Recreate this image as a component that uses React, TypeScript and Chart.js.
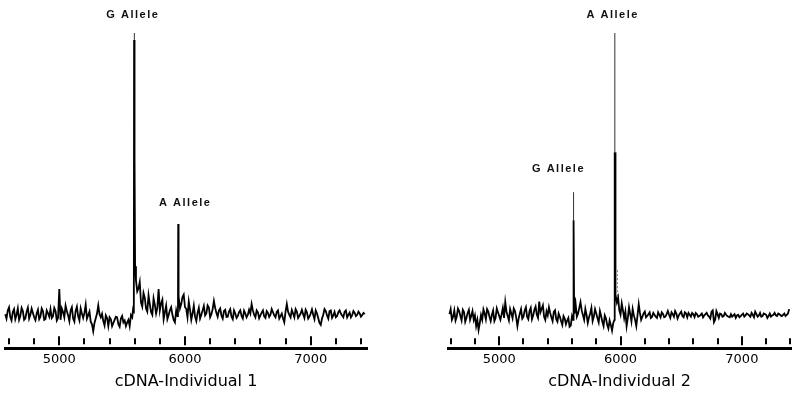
import React, { useEffect, useRef } from "react";
import { Chart, registerables } from "chart.js";

Chart.register(...registerables);

// ---------- shared axis data ----------
const tickMarks = [4600, 4800, 5000, 5200, 5400, 5600, 5800, 6000, 6200, 6400, 6600, 6800, 7000, 7200, 7400];
const tickLabels = [5000, 6000, 7000];

// ---------- Individual 1 ----------
const leftTitle = "cDNA-Individual 1";
const leftGridStart = 4570;
const leftMidStart = 4580;
const leftGridStep = 20;
const leftNoise = [
  10.8, 12.0, 9.9, 11.5, 9.2, 12.6, 10.2, 11.8, 9.5, 12.9, 10.6, 11.2, 8.9, 12.2, 10.0, 11.7, 9.3, 11.1, 12.4, 10.2, 11.8, 9.6,
  9.0, 11.5, 13.5, 10.4, 12.0, 9.4, 11.8, 10.1, 12.6, 9.6, 13.8, 10.5, 8.4,
  5.4, 9.5, 13.6,
  9.8, 8.6, 10.4, 7.0, 9.2, 8.0, 10.0, 7.6, 9.4, 8.2, 7.0, 9.0,
  10.5, 13.4,
  21.5, 19.0, 14.5, 17.5, 12.6, 16.8, 11.5, 15.8, 11.0, 18.8, 14.2, 9.2, 13.5, 10.5, 13.0, 9.0, 12.0,
  16.5, 14.0, 17.0, 12.5, 14.8, 9.0, 13.5, 8.6, 12.8, 10.6, 13.4, 11.0, 12.9, 10.8, 15.0, 11.2, 12.0, 10.3, 11.8, 9.9, 11.6, 10.0, 12.0, 9.6, 11.4, 10.2, 11.9, 9.8, 12.2,
  14.0, 10.6, 12.0, 9.5, 11.3, 10.1, 11.8, 9.9, 12.4, 10.4, 11.5, 9.4, 11.0, 8.2, 14.0, 10.6, 12.1, 9.8, 11.6, 10.3, 12.2, 9.6, 11.4, 10.0, 12.3, 9.2, 11.0, 8.0, 9.4, 12.4, 10.4, 11.8, 9.6, 11.5, 10.2, 12.0, 10.4, 11.6, 9.8, 11.3, 10.5, 11.2, 10.6, 11.0, 10.5, 10.8,
];
const leftNoiseMid = [
  9.4, 13.0, 8.8, 12.4, 10.6, 9.0, 12.8, 9.0, 11.6, 9.4, 12.6, 9.8, 11.0, 9.2, 12.6, 9.0, 12.0, 10.0, 9.6, 12.8, 8.8, 18.8,
  12.6, 9.8, 11.8, 8.6, 13.0, 8.4, 13.2, 8.8, 11.0, 11.2, 9.4, 11.6, 7.6, 8.0, 11.0, 10.8,
  10.9, 7.2, 9.6, 9.8, 7.0, 9.0, 9.8, 6.8, 10.2, 8.8, 8.2, 7.0, 9.8, 60,
  18.0, 21.0, 13.2, 16.0, 11.6, 14.0, 10.6, 13.8, 12.8, 12.0, 15.4, 11.4, 9.2, 12.0, 10.6, 8.2, 10.2,
  12.6, 16.2, 13.0, 9.8, 12.2, 11.0, 10.0, 11.2, 9.4, 12.0, 10.4, 13.6, 9.8, 12.4, 12.8, 10.0, 12.6, 9.4, 12.2, 10.0, 12.4, 9.2, 11.0, 10.2, 12.0, 9.4, 11.0, 10.6,
  11.0, 12.0, 9.8, 11.4, 10.4, 12.0, 9.6, 11.2, 10.6, 11.4, 9.8, 12.0, 10.2, 9.4, 11.6, 11.6, 9.8, 11.0, 12.4, 9.6, 11.0, 10.8, 12.2, 9.4, 11.0, 10.6, 12.0, 9.6, 7.4,
  10.6, 11.8, 9.4, 12.0, 10.4, 9.8, 11.4, 11.0, 9.8, 12.0, 10.6, 9.8, 11.8, 10.2, 11.6, 10.0, 11.2,
];
const leftPeakMass = [5593, 5595, 5597, 5599, 5603, 5944, 5946, 5948];
const leftPeakValue = [11.0, 97.8, 40, 97.8, 26, 11.0, 39.4, 13.0];
const leftTipMass = [5597];
const leftTipBase = [97.8];
const leftTipTop = [100];
const leftLabelText = ["G Allele", "A Allele"];
const leftLabelMass = [5585, 6002];
const leftLabelValue = [105.7, 46.0];

// ---------- Individual 2 ----------
const rightTitle = "cDNA-Individual 2";
const rightGridStart = 4590;
const rightMidStart = 4600;
const rightGridStep = 20;
const rightNoise = [
  10.8, 9.0, 12.0, 10.0, 11.8, 8.8, 11.5, 9.6, 12.2, 10.3,
  9.0, 7.0, 5.8, 10.5, 12.3, 9.2, 11.6, 8.6, 12.0, 9.6, 11.4, 9.0, 12.8,
  14.6, 10.2, 12.4, 9.5, 11.8, 7.0, 11.0, 9.4, 12.0, 10.0, 11.8, 9.2, 12.2, 10.6, 14.8, 12.5, 10.0, 11.7, 13.0, 9.8, 11.5, 9.2, 11.0, 8.6, 10.2, 7.6, 9.6, 7.2,
  9.0,
  14.0, 11.0, 14.6, 10.5, 12.5, 8.0, 11.0, 8.6, 12.4, 9.5, 11.8, 8.4, 10.4, 7.4, 8.8, 5.6,
  9.0,
  14.5, 12.0, 14.2, 9.5, 7.0, 13.0, 8.5, 10.4, 7.0, 14.0, 9.0, 11.0, 9.8, 10.8, 9.6, 11.2, 10.0, 11.4, 9.8, 10.9, 10.0, 11.8, 9.6, 10.8, 11.8, 9.4, 11.0, 10.2, 11.4, 9.8, 10.6, 11.2, 9.9, 10.8, 10.2, 11.0, 10.4, 11.2, 10.0, 11.6, 8.2, 11.8, 9.6, 10.8, 10.2, 10.6, 10.0, 10.8, 10.4, 9.6, 10.6, 10.2, 11.0, 10.4, 10.8, 10.0, 10.6, 11.6, 10.0, 11.2, 10.2, 10.8, 9.6, 11.0, 10.4, 11.2, 10.2, 10.8, 10.2, 11.0, 10.6, 12.4,
];
const rightNoiseMid = [
  12.4, 10.0, 8.8, 12.6, 10.2, 12.2, 8.4, 11.2, 9.0, 11.8,
  10.4, 9.0, 8.0, 9.0, 11.0, 12.4, 10.0, 10.6, 8.6, 12.6, 10.2, 10.8, 9.6,
  11.6, 8.8, 11.0, 12.6, 9.8, 9.4, 12.4, 10.0, 13.0, 9.2, 12.8, 10.4, 13.2, 9.6, 11.4, 13.6, 9.0, 10.4, 11.2, 8.6, 12.0, 8.4, 10.0, 7.4, 9.4, 8.8, 6.8,
  10.2, 11.0,
  10.0, 12.8, 12.0, 9.0, 10.6, 9.8, 12.8, 10.0, 11.0, 8.2, 10.2, 7.0, 9.4, 6.2, 7.4, 8.0,
  17.0, 16.0, 10.6, 12.0, 11.6, 9.6, 10.8, 12.4, 9.0, 10.4, 11.2, 10.0, 11.6, 10.2, 11.4, 10.0, 10.6, 9.6, 10.6, 11.4, 9.8, 10.8,
  10.6, 11.4, 10.0, 11.0, 10.4, 11.6, 9.8, 11.0, 11.2, 10.0, 10.8, 11.2, 10.0, 10.6, 9.8, 10.8, 10.4, 9.4, 12.0, 9.0, 10.8, 11.0,
  10.0, 11.2, 10.2, 9.8, 10.0, 10.8, 10.4, 9.8, 10.6, 10.0, 11.0, 10.4, 11.2, 9.8, 10.8, 10.4, 10.0, 11.0, 10.6, 10.2, 10.0, 10.6,
  10.4, 11.0, 10.4, 10.6, 10.2, 11.0,
];
const rightPeakMass = [5611, 5613, 5615, 5617, 5951, 5953, 5955, 5957];
const rightPeakValue = [40.6, 22, 40.6, 16.0, 62.2, 24, 62.2, 15.0];
const rightTipMass = [5613, 5953];
const rightTipBase = [40.6, 62.2];
const rightTipTop = [49.5, 100];
const rightDashMass = [5975];
const rightDashLow = [16.5];
const rightDashHigh = [24.8];
const rightLabelText = ["A Allele", "G Allele"];
const rightLabelMass = [5935, 5489];
const rightLabelValue = [105.7, 57.0];

type Pt = { x: number; y: number };

function buildTrace(
  start: number,
  midStart: number,
  step: number,
  noise: number[],
  mid: number[],
  pm: number[],
  pv: number[]
): Pt[] {
  const pts: Pt[] = noise.map((v, i) => ({ x: start + i * step, y: v }));
  mid.forEach((v, i) => pts.push({ x: midStart + i * step, y: v }));
  pm.forEach((m, i) => pts.push({ x: m, y: pv[i] }));
  pts.sort((a, b) => a.x - b.x);
  return pts;
}

const tickMarkPlugin = {
  id: "tickMarks",
  afterDraw(chart: any, _args: any, opts: any) {
    const xs = chart.scales.x;
    const ctx = chart.ctx;
    const top = xs.top;
    ctx.save();
    ctx.strokeStyle = "#000";
    ctx.lineWidth = 2;
    for (const v of opts.marks as number[]) {
      if (v < xs.min || v > xs.max) continue;
      const px = Math.round(xs.getPixelForValue(v));
      const major = (opts.major as number[]).includes(v);
      ctx.beginPath();
      ctx.moveTo(px, top - (major ? 12 : 10));
      ctx.lineTo(px, top - (major ? 3 : 4));
      ctx.stroke();
    }
    ctx.restore();
  },
};

const alleleLabelPlugin = {
  id: "alleleLabels",
  afterDraw(chart: any, _args: any, opts: any) {
    const xs = chart.scales.x;
    const ys = chart.scales.y;
    const ctx = chart.ctx;
    ctx.save();
    ctx.font = "bold 11px 'Liberation Sans', Arial, sans-serif";
    try {
      (ctx as any).letterSpacing = "1.5px";
    } catch (e) {}
    ctx.fillStyle = "#111";
    ctx.textAlign = "center";
    ctx.textBaseline = "middle";
    (opts.text as string[]).forEach((t, i) => {
      ctx.fillText(t, xs.getPixelForValue(opts.mass[i]), ys.getPixelForValue(opts.value[i]));
    });
    try {
      (ctx as any).letterSpacing = "0px";
    } catch (e) {}
    ctx.restore();
  },
};

type PanelProps = {
  trace: Pt[];
  tipMass: number[];
  tipBase: number[];
  tipTop: number[];
  dashMass: number[];
  dashLow: number[];
  dashHigh: number[];
  labelText: string[];
  labelMass: number[];
  labelValue: number[];
  title: string;
  xMin: number;
  xMax: number;
  padLeft: number;
  padRight: number;
};

function Panel(p: PanelProps) {
  const ref = useRef<HTMLCanvasElement | null>(null);
  useEffect(() => {
    if (!ref.current) return;
    const datasets: any[] = [
      {
        data: p.trace,
        showLine: true,
        borderColor: "#000",
        borderWidth: 1.8,
        pointRadius: 0,
        tension: 0,
        clip: false,
      },
    ];
    p.tipMass.forEach((m, i) => {
      datasets.push({
        data: [
          { x: m, y: p.tipBase[i] },
          { x: m, y: p.tipTop[i] },
        ],
        showLine: true,
        borderColor: "#333",
        borderWidth: 1,
        pointRadius: 0,
        clip: false,
      });
    });
    p.dashMass.forEach((m, i) => {
      datasets.push({
        data: [
          { x: m, y: p.dashLow[i] },
          { x: m, y: p.dashHigh[i] },
        ],
        showLine: true,
        borderColor: "#888",
        borderWidth: 1,
        borderDash: [2, 2],
        pointRadius: 0,
        clip: false,
      });
    });
    const chart = new Chart(ref.current, {
      type: "scatter",
      data: { datasets },
      options: {
        responsive: false,
        animation: false,
        events: [],
        layout: { padding: { left: p.padLeft, right: p.padRight, top: 33, bottom: 0 } },
        plugins: {
          legend: { display: false },
          tooltip: { enabled: false },
          tickMarks: { marks: tickMarks, major: tickLabels },
          alleleLabels: { text: p.labelText, mass: p.labelMass, value: p.labelValue },
        } as any,
        scales: {
          x: {
            type: "linear",
            min: p.xMin,
            max: p.xMax,
            position: "bottom",
            afterBuildTicks: (s: any) => {
              s.ticks = tickLabels.map((v) => ({ value: v }));
            },
            ticks: {
              callback: (v: any) => String(v),
              font: { family: "'DejaVu Sans', sans-serif", size: 13 },
              color: "#000",
              padding: 4,
              maxRotation: 0,
              autoSkip: false,
              includeBounds: false,
            },
            grid: { display: true, drawOnChartArea: false, drawTicks: false },
            border: { display: true, width: 3, color: "#000" },
            title: {
              display: true,
              text: p.title,
              font: { family: "'DejaVu Sans', sans-serif", size: 16 },
              color: "#000",
              padding: { top: 0, bottom: 5 },
            },
          },
          y: { display: false, min: 0, max: 100 },
        },
      } as any,
      plugins: [tickMarkPlugin, alleleLabelPlugin],
    });
    return () => chart.destroy();
  }, []);
  return <canvas ref={ref} width={396} height={396} style={{ display: "block", width: 396, height: 396 }} />;
}

export default function App() {
  const leftTrace = buildTrace(leftGridStart, leftMidStart, leftGridStep, leftNoise, leftNoiseMid, leftPeakMass, leftPeakValue);
  const rightTrace = buildTrace(rightGridStart, rightMidStart, rightGridStep, rightNoise, rightNoiseMid, rightPeakMass, rightPeakValue);
  return (
    <div style={{ position: "absolute", left: 0, top: 0, width: 792, height: 396, background: "#fff" }}>
      <div style={{ position: "absolute", left: 0, top: 0 }}>
        <Panel
          trace={leftTrace}
          tipMass={leftTipMass}
          tipBase={leftTipBase}
          tipTop={leftTipTop}
          dashMass={[]}
          dashLow={[]}
          dashHigh={[]}
          labelText={leftLabelText}
          labelMass={leftLabelMass}
          labelValue={leftLabelValue}
          title={leftTitle}
          xMin={4568}
          xMax={7448}
          padLeft={5}
          padRight={29}
        />
      </div>
      <div style={{ position: "absolute", left: 396, top: 0 }}>
        <Panel
          trace={rightTrace}
          tipMass={rightTipMass}
          tipBase={rightTipBase}
          tipTop={rightTipTop}
          dashMass={rightDashMass}
          dashLow={rightDashLow}
          dashHigh={rightDashHigh}
          labelText={rightLabelText}
          labelMass={rightLabelMass}
          labelValue={rightLabelValue}
          title={rightTitle}
          xMin={4578}
          xMax={7405}
          padLeft={52}
          padRight={1}
        />
      </div>
    </div>
  );
}
